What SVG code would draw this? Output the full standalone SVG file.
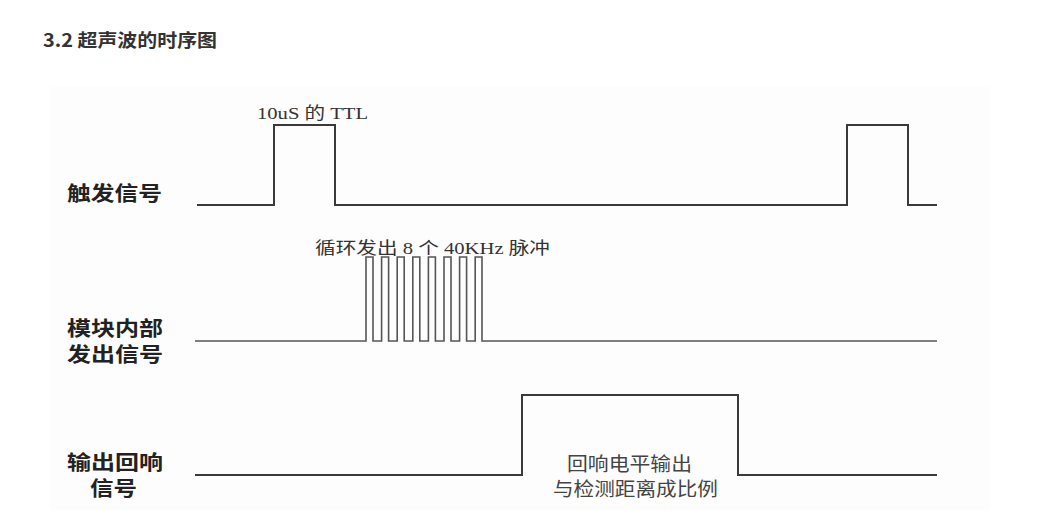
<svg xmlns="http://www.w3.org/2000/svg" width="1044" height="526" viewBox="0 0 1044 526">
<style>
.sig{fill:none;stroke:#3a3a3a;stroke-width:2;stroke-linejoin:miter}
.pul{fill:none;stroke:#555;stroke-width:1.6}
.lbl{font-family:"Noto Sans CJK SC",sans-serif;font-weight:bold;font-size:20px;fill:#222}
.note{font-family:"Liberation Serif","Noto Sans CJK SC",serif;font-size:16.5px;fill:#333}
.cap{font-family:"Noto Sans CJK SC",sans-serif;font-size:19px;fill:#444}
.title{font-family:"Noto Sans CJK SC",sans-serif;font-weight:bold;font-size:18px;fill:#333}
</style>
<rect width="1044" height="526" fill="#fff"/>
<text class="title" x="43" y="47" textLength="174" lengthAdjust="spacingAndGlyphs">3.2 超声波的时序图</text>
<rect x="50" y="87" width="940" height="424" fill="#fdfdfd"/>
<g id="trigger">
<text class="lbl" x="67" y="201" textLength="95" lengthAdjust="spacingAndGlyphs">触发信号</text>
<text class="note" x="257" y="119" textLength="111" lengthAdjust="spacingAndGlyphs">10uS 的 TTL</text>
</g>
<g id="internal">
<text class="lbl" x="67" y="336" textLength="96" lengthAdjust="spacingAndGlyphs">模块内部</text>
<text class="lbl" x="67" y="362" textLength="96" lengthAdjust="spacingAndGlyphs">发出信号</text>
<text class="note" x="315" y="254" textLength="235" lengthAdjust="spacingAndGlyphs">循环发出 8 个 40KHz 脉冲</text>
</g>
<g id="echo">
<text class="lbl" x="67" y="470" textLength="96" lengthAdjust="spacingAndGlyphs">输出回响</text>
<text class="lbl" x="90" y="496" textLength="47" lengthAdjust="spacingAndGlyphs">信号</text>
<text class="cap" x="567" y="471" textLength="125" lengthAdjust="spacingAndGlyphs">回响电平输出</text>
<text class="cap" x="553" y="496" textLength="165" lengthAdjust="spacingAndGlyphs">与检测距离成比例</text>
</g>
<g id="connectors">
<path class="sig" d="M197 205 H274 V125 H335 V205 H847 V125 H908 V205 H937"/>
<path class="pul" d="M195 341 H366 V257 H373 V341 H381.6 V257 H388.6 V341 H397.2 V257 H404.2 V341 H412.8 V257 H419.8 V341 H428.4 V257 H435.4 V341 H444 V257 H451 V341 H459.6 V257 H466.6 V341 H475.2 V257 H482 V341 H937"/>
<path class="sig" d="M195 475 H522 V395 H738 V475 H937"/>
</g>
</svg>
